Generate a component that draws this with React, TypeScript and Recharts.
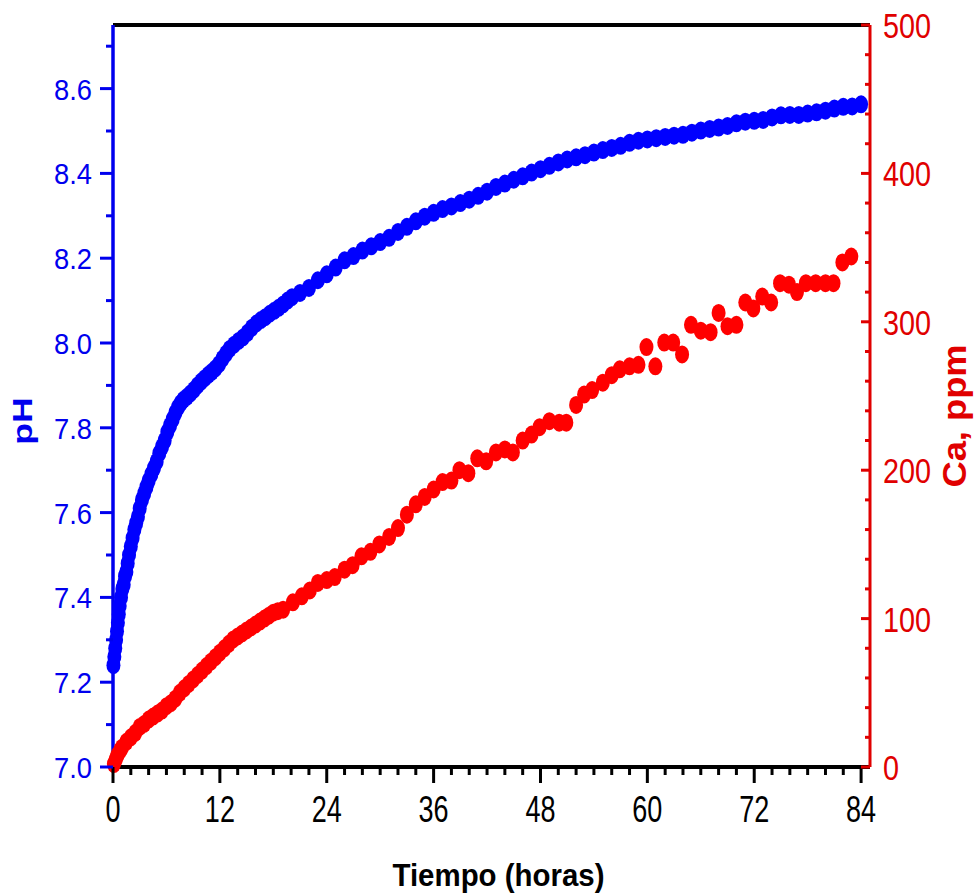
import { ScatterChart, Scatter, XAxis, YAxis, ReferenceLine } from "recharts";

// pH vs tiempo (horas)
const phHours = [
  0.05, 0.15, 0.25, 0.35, 0.45, 0.55, 0.65, 0.75, 0.9, 1.05, 1.2, 1.35, 1.5, 1.65, 1.8,
  2.0, 2.2, 2.4, 2.6, 2.8, 3.0, 3.25, 3.5, 3.75, 4.0, 4.3, 4.6, 4.9, 5.2, 5.5, 5.8,
  6.1, 6.4, 6.7, 7.0, 7.3, 7.6, 7.9, 8.3, 8.7, 9.1, 9.5, 9.9, 10.3, 10.7, 11.1, 11.5,
  11.9, 12.3, 12.7, 13.1, 13.6, 14.1, 14.6, 15.1, 15.6, 16.1, 16.6, 17.1, 17.6, 18.1,
  18.6, 19.1, 19.6, 20.1,
  21, 22, 23, 24, 25, 26, 27, 28, 29, 30, 31, 32, 33, 34, 35, 36, 37, 38, 39, 40,
  41, 42, 43, 44, 45, 46, 47, 48, 49, 50, 51, 52, 53, 54, 55, 56, 57, 58, 59, 60,
  61, 62, 63, 64, 65, 66, 67, 68, 69, 70, 71, 72, 73, 74, 75, 76, 77, 78, 79, 80,
  81, 82, 83, 84,
];
const phValues = [
  7.24, 7.26, 7.28, 7.3, 7.32, 7.34, 7.36, 7.38, 7.4, 7.42, 7.43, 7.45, 7.46, 7.48, 7.5,
  7.52, 7.54, 7.56, 7.575, 7.59, 7.61, 7.63, 7.645, 7.66, 7.675, 7.69, 7.705, 7.72, 7.74, 7.755, 7.77,
  7.79, 7.805, 7.82, 7.835, 7.848, 7.858, 7.866, 7.873, 7.881, 7.89, 7.9, 7.909, 7.917, 7.925, 7.932, 7.94,
  7.95, 7.963, 7.975, 7.986, 7.996, 8.005, 8.013, 8.024, 8.036, 8.046, 8.054, 8.061, 8.069, 8.076,
  8.083, 8.091, 8.1, 8.108,
  8.118, 8.13, 8.148, 8.162, 8.178, 8.195, 8.205, 8.218, 8.228, 8.238, 8.248, 8.262, 8.274, 8.287, 8.298, 8.307, 8.316, 8.322, 8.33, 8.338,
  8.347, 8.357, 8.368, 8.376, 8.385, 8.393, 8.402, 8.41, 8.418, 8.426, 8.433, 8.438, 8.443, 8.449, 8.455, 8.46, 8.465, 8.472, 8.477, 8.48,
  8.483, 8.486, 8.489, 8.491, 8.496, 8.501, 8.505, 8.508, 8.512, 8.518, 8.522, 8.524, 8.526, 8.532, 8.537, 8.538, 8.538, 8.541, 8.544, 8.548,
  8.553, 8.557, 8.558, 8.563,
];

// Ca (ppm) vs tiempo (horas)
const caHours = [
  0.1, 0.3, 0.5, 0.8, 1.0, 1.5, 2.0, 2.5, 3.0, 3.5, 4.0, 4.5, 5.0, 5.5, 6.0, 6.5, 7.0, 7.5,
  8.0, 8.5, 9.0, 9.5, 10.0, 10.5, 11.0, 11.5, 12.0, 12.5, 13.0, 13.5, 14.0, 14.5, 15.0, 15.5,
  16.0, 16.5, 17.0, 17.5, 18.0, 18.5,
  19.1, 20.2, 21.2, 22.1, 23.0, 24.0, 24.9, 26.0, 26.9, 27.9, 28.9, 29.9, 31.0, 32.0, 33.0,
  34.0, 35.0, 36.0, 37.0, 38.0, 38.9, 39.9, 40.9, 41.9, 43.0, 44.0, 44.9, 46.0, 47.0, 47.9,
  49.0, 50.1, 50.9, 52.0, 52.9, 53.8, 55.0, 56.0, 56.9, 58.0, 59.0, 59.9, 60.9, 61.9, 62.9,
  63.9, 64.9, 66.0, 67.1, 68.0, 69.0, 70.0, 71.0, 71.9, 72.9, 73.9, 74.9, 75.9, 76.8, 77.8,
  78.9, 80.0, 80.9, 81.9, 82.9,
];
const caValues = [
  2, 5, 8, 11, 13, 17, 20, 23, 27, 29, 32, 34, 36, 38, 41, 43, 46, 50,
  53, 56, 59, 62, 65, 68, 71, 74, 77, 80, 83, 86, 88, 90, 92, 94,
  96, 98, 100, 102, 104, 105,
  106, 111, 115, 119, 124, 126, 128, 133, 136, 142, 145, 150, 155, 161, 170,
  177, 182, 187, 192, 193, 200, 198, 208, 206, 212, 214, 212, 220, 224, 229,
  233, 232, 232, 244, 251, 254, 259, 264, 268, 270, 271, 283, 270, 286, 286,
  278, 298, 294, 293, 306, 297, 298, 313, 309, 317, 313, 326, 325, 320, 326,
  326, 326, 326, 340, 344,
];

const hourTicks = [
  0, 2, 4, 6, 8, 10, 12, 14, 16, 18, 20, 22, 24, 26, 28, 30, 32, 34, 36, 38, 40, 42,
  44, 46, 48, 50, 52, 54, 56, 58, 60, 62, 64, 66, 68, 70, 72, 74, 76, 78, 80, 82, 84,
];
const phTicks = [7.0, 7.1, 7.2, 7.3, 7.4, 7.5, 7.6, 7.7, 7.8, 7.9, 8.0, 8.1, 8.2, 8.3, 8.4, 8.5, 8.6, 8.7];
const caTicks = [
  0, 20, 40, 60, 80, 100, 120, 140, 160, 180, 200, 220, 240, 260, 280, 300, 320, 340,
  360, 380, 400, 420, 440, 460, 480, 500,
];

const phData = phHours.map((t, i) => ({ t, ph: phValues[i] }));
const caData = caHours.map((t, i) => ({ t, ca: caValues[i] }));

const FONT = "'Liberation Sans', Arial, sans-serif";
const BLUE = "#0000ee";
const RED = "#e00000";

const BottomTick = (props: any) => {
  const { x, y, payload } = props;
  const major = payload.value % 12 === 0;
  return (
    <g>
      <line x1={x} x2={x} y1={y} y2={y + (major ? 16 : 8)} stroke="#000" strokeWidth={3} />
      {major && (
        <text
          transform={`translate(${x},${y + 55}) scale(0.73,1)`}
          textAnchor="middle"
          fontSize={37}
          fontFamily={FONT}
          fill="#000"
        >
          {payload.value}
        </text>
      )}
    </g>
  );
};

const LeftTick = (props: any) => {
  const { x, y, payload } = props;
  const major = Math.round(payload.value * 10) % 2 === 0;
  return (
    <g>
      <line x1={x} x2={x - (major ? 13 : 7)} y1={y} y2={y} stroke={BLUE} strokeWidth={3} />
      {major && (
        <text
          transform={`translate(${x - 21},${y + 11}) scale(0.91,1)`}
          textAnchor="end"
          fontSize={30}
          fontFamily={FONT}
          fill={BLUE}
        >
          {payload.value.toFixed(1)}
        </text>
      )}
    </g>
  );
};

const RightTick = (props: any) => {
  const { x, y, payload } = props;
  const major = payload.value % 100 === 0;
  return (
    <g>
      <line x1={x} x2={x - (major ? 9 : 5)} y1={y} y2={y} stroke={RED} strokeWidth={3} />
      {major && (
        <text
          transform={`translate(${x + 13},${y + 13}) scale(0.8,1)`}
          textAnchor="start"
          fontSize={36}
          fontFamily={FONT}
          fill={RED}
        >
          {payload.value}
        </text>
      )}
    </g>
  );
};

const Dot = (color: string) => (p: any) => (
  <ellipse cx={p.cx} cy={p.cy} rx={7} ry={9} fill={color} />
);

export default function App() {
  return (
    <div style={{ position: "absolute", left: 0, top: 0, background: "#fff" }}>
      <ScatterChart width={975} height={896} margin={{ top: 25, right: 0, bottom: 0, left: 0 }}>
        <XAxis
          dataKey="t"
          type="number"
          domain={[0, 85]}
          ticks={hourTicks}
          interval={0}
          tickSize={0}
          tickMargin={0}
          tick={BottomTick}
          height={129}
          axisLine={{ stroke: "#000", strokeWidth: 4 }}
          label={(p: any) => {
            const vb = p.viewBox;
            return (
              <text
                transform={`translate(${vb.x + vb.width / 2 + 7},${vb.y + 119}) scale(0.92,1)`}
                textAnchor="middle"
                fontSize={32}
                fontWeight="bold"
                fontFamily={FONT}
                fill="#000"
              >
                Tiempo (horas)
              </text>
            );
          }}
        />
        <YAxis
          yAxisId="ph"
          dataKey="ph"
          type="number"
          domain={[7, 8.75]}
          ticks={phTicks}
          interval={0}
          tickSize={0}
          tickMargin={0}
          tick={LeftTick}
          width={113}
          axisLine={{ stroke: BLUE, strokeWidth: 3.5 }}
          label={(p: any) => {
            const vb = p.viewBox;
            const cy = vb.y + vb.height / 2 + 25;
            return (
              <text
                transform={`translate(${vb.x + 32},${cy}) rotate(-90) scale(1.27,1)`}
                textAnchor="middle"
                fontSize={28}
                fontWeight="bold"
                fontFamily={FONT}
                fill={BLUE}
              >
                pH
              </text>
            );
          }}
        />
        <YAxis
          yAxisId="ca"
          orientation="right"
          dataKey="ca"
          type="number"
          domain={[0, 500]}
          ticks={caTicks}
          interval={0}
          tickSize={0}
          tickMargin={0}
          tick={RightTick}
          width={105}
          axisLine={{ stroke: RED, strokeWidth: 3 }}
          label={(p: any) => {
            const vb = p.viewBox;
            const cy = vb.y + vb.height / 2 + 20;
            return (
              <text
                transform={`translate(${vb.x + 96},${cy}) rotate(-90) scale(1.1,1)`}
                textAnchor="middle"
                fontSize={33}
                fontWeight="bold"
                fontFamily={FONT}
                fill={RED}
              >
                Ca, ppm
              </text>
            );
          }}
        />
        <ReferenceLine yAxisId="ph" y={8.75} stroke="#000" strokeWidth={4} />
        <Scatter yAxisId="ca" data={caData} shape={Dot("#ff0000")} isAnimationActive={false} />
        <Scatter yAxisId="ph" data={phData} shape={Dot("#0000ff")} isAnimationActive={false} />
      </ScatterChart>
    </div>
  );
}
